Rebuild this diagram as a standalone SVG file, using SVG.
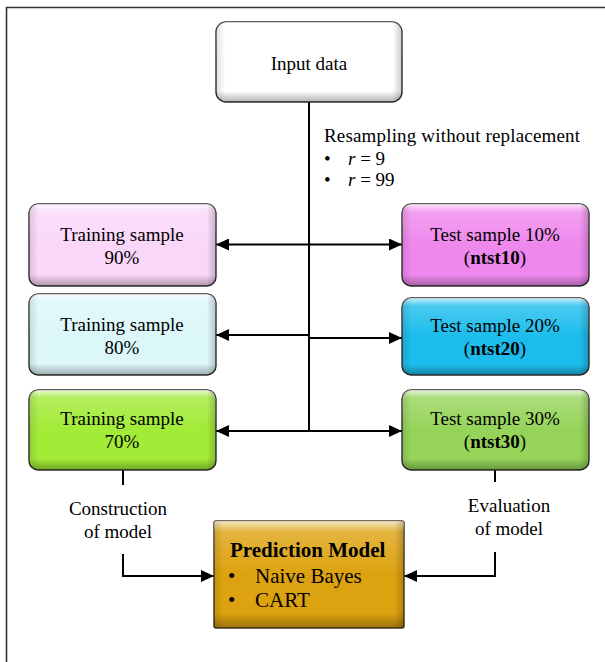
<svg xmlns="http://www.w3.org/2000/svg" width="605" height="662" viewBox="0 0 605 662">
<style>
.t{font-family:"Liberation Serif","Times New Roman",serif;font-size:19px;fill:#000}
.c{text-anchor:middle}
.b{font-weight:bold}
.big{font-size:21px}
.box{stroke:#2e2e2e;stroke-width:1.4}
.shade{fill:url(#bevel);stroke:none}
.side{fill:url(#bevelx);stroke:none}
.ln{stroke:#000;stroke-width:2;fill:none}
.arr{marker-end:url(#ah)}
</style>
<defs>
<linearGradient id="bevel" x1="0" y1="0" x2="0" y2="1">
<stop offset="0" stop-color="#fff" stop-opacity="0.75"/>
<stop offset="0.1" stop-color="#fff" stop-opacity="0.2"/>
<stop offset="0.5" stop-color="#fff" stop-opacity="0"/>
<stop offset="0.86" stop-color="#000" stop-opacity="0"/>
<stop offset="1" stop-color="#000" stop-opacity="0.3"/>
</linearGradient>
<linearGradient id="bevelx" x1="0" y1="0" x2="1" y2="0">
<stop offset="0" stop-color="#000" stop-opacity="0.12"/>
<stop offset="0.05" stop-color="#000" stop-opacity="0"/>
<stop offset="0.95" stop-color="#000" stop-opacity="0"/>
<stop offset="1" stop-color="#000" stop-opacity="0.2"/>
</linearGradient>
<marker id="ah" markerUnits="userSpaceOnUse" markerWidth="13" markerHeight="12" refX="13" refY="6" orient="auto">
<path d="M0,0 L13,6 L0,12 z" fill="#000"/>
</marker>
</defs>
<rect width="605" height="662" fill="#fff"/>
<path d="M6.5,662 V7.5 H605" fill="none" stroke="#333" stroke-width="1.6"/>

<g id="connectors">
<path class="ln" d="M309,102 V431"/>
<path class="ln arr" d="M309,244.5 H216"/>
<path class="ln arr" d="M309,244.5 H402"/>
<path class="ln arr" d="M309,335 H216"/>
<path class="ln arr" d="M309,338 H402"/>
<path class="ln arr" d="M309,431 H216"/>
<path class="ln arr" d="M309,431 H402"/>
<path class="ln" d="M123,470 V485"/>
<path class="ln arr" d="M123,554 V576 H214"/>
<path class="ln" d="M495,470 V482"/>
<path class="ln arr" d="M495,552 V576 H404"/>
</g>

<g id="resampling-label">
<text class="t" x="324" y="142" textLength="256" lengthAdjust="spacing">Resampling without replacement</text>
<text class="t" x="324" y="164.5">•</text>
<text class="t" x="348" y="164.5"><tspan font-style="italic">r</tspan> = 9</text>
<text class="t" x="324" y="186">•</text>
<text class="t" x="348" y="186"><tspan font-style="italic">r</tspan> = 99</text>
</g>

<g id="input-data">
<rect class="box" x="216" y="22" width="186" height="80" rx="10" fill="#fff"/>
<rect class="shade" x="216" y="22" width="186" height="80" rx="10"/>
<rect class="side" x="216" y="22" width="186" height="80" rx="10"/>
<text class="t c" x="309" y="70">Input data</text>
</g>

<g id="training-90">
<rect class="box" x="29" y="204" width="187" height="82" rx="9" fill="#fad7f9"/>
<rect class="shade" x="29" y="204" width="187" height="82" rx="9"/>
<rect class="side" x="29" y="204" width="187" height="82" rx="9"/>
<text class="t c" x="122" y="241">Training sample</text>
<text class="t c" x="122" y="264">90%</text>
</g>

<g id="test-10">
<rect class="box" x="402" y="204" width="187" height="82" rx="9" fill="#ef88ed"/>
<rect class="shade" x="402" y="204" width="187" height="82" rx="9"/>
<rect class="side" x="402" y="204" width="187" height="82" rx="9"/>
<text class="t c" x="495" y="241">Test sample 10%</text>
<text class="t c" x="495" y="264">(<tspan class="b">ntst10</tspan>)</text>
</g>

<g id="training-80">
<rect class="box" x="29" y="294" width="187" height="81" rx="9" fill="#dcf7fa"/>
<rect class="shade" x="29" y="294" width="187" height="81" rx="9"/>
<rect class="side" x="29" y="294" width="187" height="81" rx="9"/>
<text class="t c" x="122" y="331">Training sample</text>
<text class="t c" x="122" y="354">80%</text>
</g>

<g id="test-20">
<rect class="box" x="402" y="298" width="187" height="77" rx="9" fill="#1cbdec"/>
<rect class="shade" x="402" y="298" width="187" height="77" rx="9"/>
<rect class="side" x="402" y="298" width="187" height="77" rx="9"/>
<text class="t c" x="495" y="332">Test sample 20%</text>
<text class="t c" x="495" y="355">(<tspan class="b">ntst20</tspan>)</text>
</g>

<g id="training-70">
<rect class="box" x="29" y="390" width="187" height="80" rx="9" fill="#a2eb36"/>
<rect class="shade" x="29" y="390" width="187" height="80" rx="9"/>
<rect class="side" x="29" y="390" width="187" height="80" rx="9"/>
<text class="t c" x="122" y="425">Training sample</text>
<text class="t c" x="122" y="448">70%</text>
</g>

<g id="test-30">
<rect class="box" x="402" y="390" width="187" height="80" rx="9" fill="#95d459"/>
<rect class="shade" x="402" y="390" width="187" height="80" rx="9"/>
<rect class="side" x="402" y="390" width="187" height="80" rx="9"/>
<text class="t c" x="495" y="425">Test sample 30%</text>
<text class="t c" x="495" y="448">(<tspan class="b">ntst30</tspan>)</text>
</g>

<g id="construction-label">
<text class="t c" x="118" y="515">Construction</text>
<text class="t c" x="118" y="538">of model</text>
</g>

<g id="evaluation-label">
<text class="t c" x="509" y="512">Evaluation</text>
<text class="t c" x="509" y="535">of model</text>
</g>

<g id="prediction-model">
<rect x="214" y="521" width="190" height="107" rx="2" fill="#dda20f" stroke="#4a3d1c" stroke-width="1.5"/>
<rect class="shade" x="214" y="521" width="190" height="107" rx="2"/>
<rect class="side" x="214" y="521" width="190" height="107" rx="2"/>
<text class="t big b" x="230" y="557">Prediction Model</text>
<text class="t big" x="228" y="583">•</text>
<text class="t big" x="255" y="583">Naive Bayes</text>
<text class="t big" x="228" y="607">•</text>
<text class="t big" x="255" y="607">CART</text>
</g>
</svg>
